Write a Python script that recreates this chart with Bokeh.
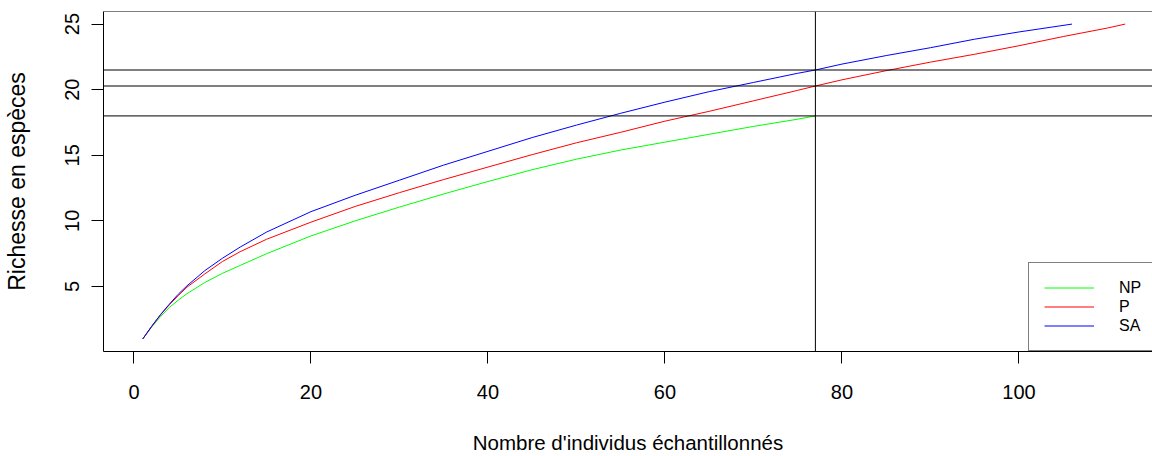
from bokeh.plotting import figure
from bokeh.models import Range1d, Span, Legend, LegendItem, FixedTicker
from bokeh.embed import file_html
from bokeh.resources import INLINE

# Rarefaction curves (number of individuals sampled -> species richness)
np_n = [1, 2, 3, 4, 5, 6, 8, 10, 12, 15, 20, 25, 30, 35, 40, 45, 50, 55, 60, 65, 70, 75, 77]
np_s = [1.0, 1.9, 2.7, 3.4, 3.95, 4.45, 5.3, 6.0, 6.6, 7.5, 8.85, 10.0, 11.05, 12.05, 13.0,
        13.9, 14.7, 15.4, 16.0, 16.6, 17.2, 17.75, 18.0]

p_n = [1, 2, 3, 4, 5, 6, 8, 10, 12, 15, 20, 25, 30, 35, 40, 45, 50, 55, 60, 65, 70, 75, 77,
       80, 85, 90, 95, 100, 105, 110, 112]
p_s = [1.0, 1.95, 2.83, 3.6, 4.3, 4.95, 5.95, 6.9, 7.65, 8.6, 9.9, 11.1, 12.15, 13.15, 14.1,
       15.05, 15.95, 16.75, 17.6, 18.35, 19.15, 19.95, 20.28, 20.75, 21.45, 22.1, 22.7, 23.35,
       24.05, 24.7, 25.0]

sa_n = [1, 2, 3, 4, 5, 6, 8, 10, 12, 15, 20, 25, 30, 35, 40, 45, 50, 55, 60, 65, 70, 75, 77,
        80, 85, 90, 95, 100, 106]
sa_s = [1.0, 1.96, 2.85, 3.65, 4.4, 5.05, 6.2, 7.15, 8.0, 9.15, 10.7, 11.95, 13.1, 14.25, 15.3,
        16.35, 17.3, 18.2, 19.05, 19.85, 20.55, 21.25, 21.5, 21.95, 22.6, 23.2, 23.85, 24.4, 25.0]

series_names = ["NP", "P", "SA"]
series_colors = ["#00FF00", "#FF0000", "#0000FF"]

# Reference lines: common sample size and richness of each series at that size
ref_n = [77]
ref_s = [18.0, 20.28, 21.5]

x_ticks = [0, 20, 40, 60, 80, 100]
y_ticks = [5, 10, 15, 20, 25]

x_title = "Nombre d'individus échantillonnés"
y_title = "Richesse en espèces"

FONT = "Liberation Sans"

x0, x1 = -3.44, 115.09
y0, y1 = 0.04, 25.96

p = figure(width=1152, height=456, output_backend="svg", toolbar_location=None,
           x_range=Range1d(x0, x1), y_range=Range1d(y0, y1),
           min_border_left=103, min_border_right=0, min_border_top=11, min_border_bottom=105)
p.outline_line_color = None
p.background_fill_color = "white"
p.border_fill_color = "white"
p.xgrid.visible = False
p.ygrid.visible = False

for ax in (p.xaxis[0], p.yaxis[0]):
    ax.axis_line_color = "black"
    ax.major_tick_line_color = "black"
    ax.minor_tick_line_color = None
    ax.major_tick_in = 0
    ax.major_tick_out = 12
    ax.major_label_text_font = FONT
    ax.major_label_text_font_size = "20px"
    ax.major_label_text_color = "black"
    ax.axis_label_text_font = FONT
    ax.axis_label_text_font_style = "normal"
    ax.axis_label_text_color = "black"

p.xaxis[0].ticker = FixedTicker(ticks=x_ticks)
p.yaxis[0].ticker = FixedTicker(ticks=y_ticks)
p.xaxis[0].axis_label = x_title
p.yaxis[0].axis_label = y_title
p.xaxis[0].axis_label_text_font_size = "20.5px"
p.yaxis[0].axis_label_text_font_size = "23px"
p.xaxis[0].major_label_standoff = 21
p.xaxis[0].axis_label_standoff = 29
p.yaxis[0].major_label_orientation = "vertical"
p.yaxis[0].major_label_standoff = 12
p.yaxis[0].axis_label_standoff = 33

# top side of the box
p.add_layout(Span(location=y1, dimension="width", line_color="black", line_width=1))

renderers = []
for n, s, c in zip([np_n, p_n, sa_n], [np_s, p_s, sa_s], series_colors):
    r = p.line(n, s, line_color=c, line_width=1)
    renderers.append(r)

for v in ref_n:
    p.add_layout(Span(location=v, dimension="height", line_color="black", line_width=1))
for h in ref_s:
    p.add_layout(Span(location=h, dimension="width", line_color="black", line_width=1))

legend = Legend(items=[LegendItem(label=nm, renderers=[r]) for nm, r in zip(series_names, renderers)],
                location=(925, 0), orientation="vertical")
legend.margin = 0
legend.padding = 15
legend.spacing = 0
legend.label_height = 19
legend.glyph_height = 19
legend.glyph_width = 50
legend.label_standoff = 25
legend.label_text_font = FONT
legend.label_text_font_size = "16px"
legend.label_text_color = "black"
legend.border_line_color = "black"
legend.border_line_width = 1
legend.background_fill_color = "white"
legend.background_fill_alpha = 1.0
p.add_layout(legend, "center")

open("out.html", "w").write(file_html(p, INLINE))
